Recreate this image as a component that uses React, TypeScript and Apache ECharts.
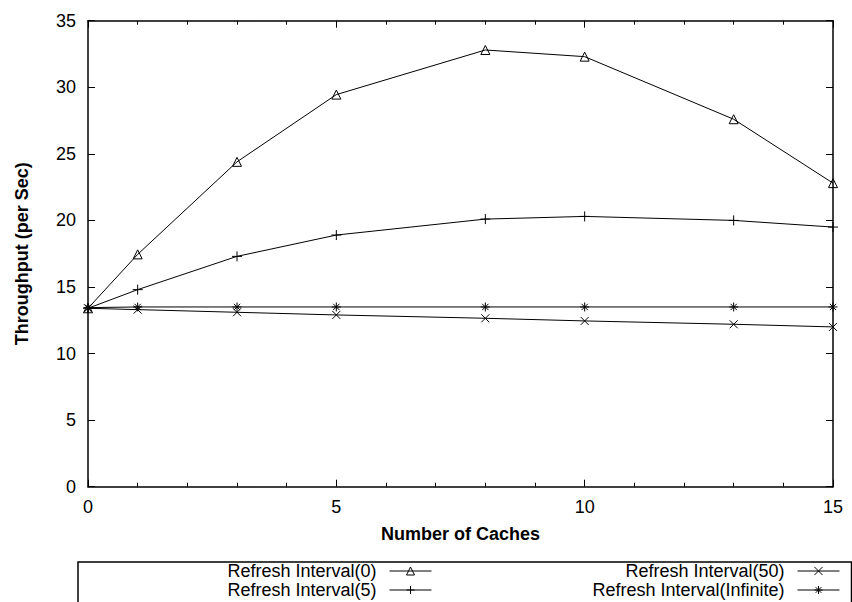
import React, { useEffect, useRef } from "react";
import * as echarts from "echarts";

const caches = [0, 1, 3, 5, 8, 10, 13, 15];
const ri0 = [13.4, 17.45, 24.4, 29.45, 32.8, 32.3, 27.6, 22.8];
const ri5 = [13.4, 14.8, 17.3, 18.9, 20.1, 20.3, 20.0, 19.5];
const ri50 = [13.4, 13.3, 13.1, 12.9, 12.65, 12.45, 12.2, 12.0];
const riInf = [13.45, 13.5, 13.5, 13.5, 13.5, 13.5, 13.5, 13.5];
const seriesNames = [
  "Refresh Interval(0)",
  "Refresh Interval(5)",
  "Refresh Interval(50)",
  "Refresh Interval(Infinite)",
];

const FONT = "'Liberation Sans', Arial, Helvetica, sans-serif";
const TRI = "path://M5 0 L10 9 L0 9 Z";
const PLUS = "path://M5 0 L5 10 M0 5 L10 5";
const CROSS = "path://M0 0 L10 10 M0 10 L10 0";
const STAR = "path://M5 0 L5 10 M0 5 L10 5 M1.5 1.5 L8.5 8.5 M1.5 8.5 L8.5 1.5";

export default function App() {
  const ref = useRef<HTMLDivElement>(null);
  useEffect(() => {
    document.body.style.margin = "0";
    const chart = echarts.init(ref.current!, null, { renderer: "svg" });
    const mk = (name: string, vals: number[], symbol: string, size: number, fill: string) => ({
      name,
      type: "line",
      data: caches.map((c, i) => [c, vals[i]]),
      symbol,
      symbolSize: size,
      showAllSymbol: true,
      lineStyle: { color: "#000", width: 1 },
      itemStyle: { color: fill, borderColor: "#000", borderWidth: 1 },
      emphasis: { disabled: true },
    });
    const legendBase = {
      orient: "vertical",
      align: "right",
      top: 562,
      itemGap: 1,
      itemWidth: 42,
      itemHeight: 10,
      padding: 0,
      selectedMode: false,
      lineStyle: { width: 1 },
      itemStyle: { borderWidth: 1 },
      textStyle: { fontFamily: FONT, fontSize: 18, color: "#000", padding: [0, 8, 0, 0] },
    };
    chart.setOption({
      animation: false,
      textStyle: { fontFamily: FONT },
      grid: { left: 88, right: 19, top: 20.7, bottom: 115.3 },
      xAxis: [
        {
          type: "value",
          min: 0,
          max: 15,
          interval: 5,
          position: "bottom",
          name: "Number of Caches",
          nameLocation: "middle",
          nameGap: 38,
          nameTextStyle: { fontFamily: FONT, fontSize: 18, fontWeight: "bold", color: "#000" },
          axisLine: { show: true, onZero: false, lineStyle: { color: "#000", width: 1.5 } },
          axisTick: { show: true, inside: true, length: 7, lineStyle: { color: "#000" } },
          minorTick: { show: true, splitNumber: 5, length: 4, lineStyle: { color: "#000" } },
          axisLabel: { fontFamily: FONT, fontSize: 18, color: "#000", margin: 11 },
          splitLine: { show: false },
        },
        {
          type: "value",
          min: 0,
          max: 15,
          interval: 5,
          position: "top",
          axisLine: { show: true, onZero: false, lineStyle: { color: "#000", width: 1.5 } },
          axisTick: { show: true, inside: true, length: 7, lineStyle: { color: "#000" } },
          minorTick: { show: true, splitNumber: 5, length: 4, lineStyle: { color: "#000" } },
          axisLabel: { show: false },
          splitLine: { show: false },
        },
      ],
      yAxis: [
        {
          type: "value",
          min: 0,
          max: 35,
          interval: 5,
          position: "left",
          name: "Throughput (per Sec)",
          nameLocation: "middle",
          nameGap: 57,
          nameTextStyle: { fontFamily: FONT, fontSize: 18, fontWeight: "bold", color: "#000" },
          axisLine: { show: true, onZero: false, lineStyle: { color: "#000", width: 1.5 } },
          axisTick: { show: true, inside: true, length: 7, lineStyle: { color: "#000" } },
          axisLabel: { fontFamily: FONT, fontSize: 18, color: "#000", margin: 12 },
          splitLine: { show: false },
        },
        {
          type: "value",
          min: 0,
          max: 35,
          interval: 5,
          position: "right",
          axisLine: { show: true, onZero: false, lineStyle: { color: "#000", width: 1.5 } },
          axisTick: { show: true, inside: true, length: 7, lineStyle: { color: "#000" } },
          axisLabel: { show: false },
          splitLine: { show: false },
        },
      ],
      legend: [
        { ...legendBase, right: 420, data: [seriesNames[0], seriesNames[1]] },
        { ...legendBase, right: 12, data: [seriesNames[2], seriesNames[3]] },
      ],
      graphic: [
        {
          type: "rect",
          shape: { x: 78, y: 562, width: 773.5, height: 60 },
          style: { fill: "none", stroke: "#000", lineWidth: 1.5 },
          silent: true,
        },
      ],
      series: [
        mk(seriesNames[0], ri0, TRI, 9, "none"),
        mk(seriesNames[1], ri5, PLUS, 10, "#000"),
        mk(seriesNames[2], ri50, CROSS, 8, "#000"),
        mk(seriesNames[3], riInf, STAR, 9, "#000"),
      ],
    });
    return () => chart.dispose();
  }, []);
  return <div ref={ref} style={{ width: 852, height: 602 }} />;
}
